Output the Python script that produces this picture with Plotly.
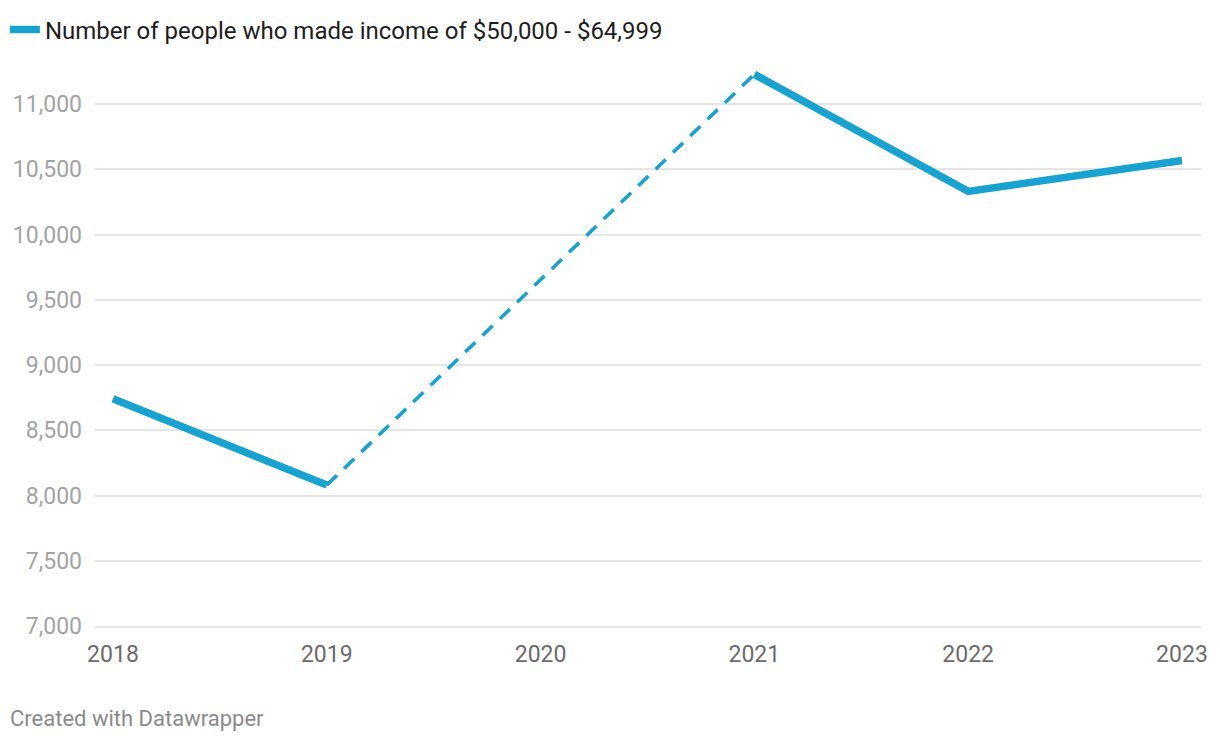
import plotly.graph_objects as go

years = [2018, 2019, 2020, 2021, 2022, 2023]
people = [8741, 8080, None, 11228, 10331, 10567]
series_name = "Number of people who made income of $50,000 - $64,999"
y_ticks = [7000, 7500, 8000, 8500, 9000, 9500, 10000, 10500, 11000]
y_labels = ["7,000", "7,500", "8,000", "8,500", "9,000", "9,500", "10,000", "10,500", "11,000"]

color = "#18a2cf"

# dashed bridge across the missing year
gap = people.index(None)
bridge_x = [years[gap - 1], years[gap + 1]]
bridge_y = [people[gap - 1], people[gap + 1]]

fig = go.Figure()
fig.add_trace(go.Scatter(
    x=bridge_x, y=bridge_y, mode="lines",
    line=dict(color=color, width=3.6, dash="14px,10px"),
    showlegend=False, hoverinfo="skip", cliponaxis=False,
))
fig.add_trace(go.Scatter(
    x=years, y=people, mode="lines", name=series_name,
    line=dict(color=color, width=7.5), connectgaps=False, cliponaxis=False,
))

fig.update_layout(
    width=1220, height=742,
    margin=dict(l=95, r=17, t=60, b=116),
    paper_bgcolor="white", plot_bgcolor="white",
    font=dict(family="Roboto", size=23, color="#1d1d1d"),
    showlegend=True,
    legend=dict(
        xref="container", yref="container", x=0.004, y=0.99,
        xanchor="left", yanchor="top",
        orientation="h", font=dict(family="Roboto", size=24, color="#1d1d1d"),
        itemwidth=30, bgcolor="rgba(0,0,0,0)", borderwidth=0,
    ),
    xaxis=dict(
        range=[2017.916, 2023.089], tickvals=years, ticktext=[str(y) for y in years],
        showgrid=False, zeroline=False, showline=True, linecolor="#e5e5e5", linewidth=2,
        ticks="", ticklabelstandoff=6,
        tickfont=dict(family="Roboto", size=23, color="#6b6b6b"),
    ),
    yaxis=dict(
        range=[7000, 11304], tickvals=y_ticks, ticktext=y_labels,
        showgrid=True, gridcolor="#e5e5e5", gridwidth=2, zeroline=False, showline=False,
        ticks="", ticklabelstandoff=12,
        tickfont=dict(family="Roboto", size=23, color="#a3a3a3"),
    ),
    annotations=[dict(
        text="Created with Datawrapper", xref="paper", yref="paper",
        x=0, y=0, xanchor="left", yanchor="middle", xshift=-87, yshift=-92,
        showarrow=False, font=dict(family="Roboto", size=22, color="#8a8a8a"),
    )],
)

fig.write_html(
    "out.html",
    config={"displayModeBar": False},
    post_script="document.body.style.margin='0';document.body.style.padding='0';",
)
